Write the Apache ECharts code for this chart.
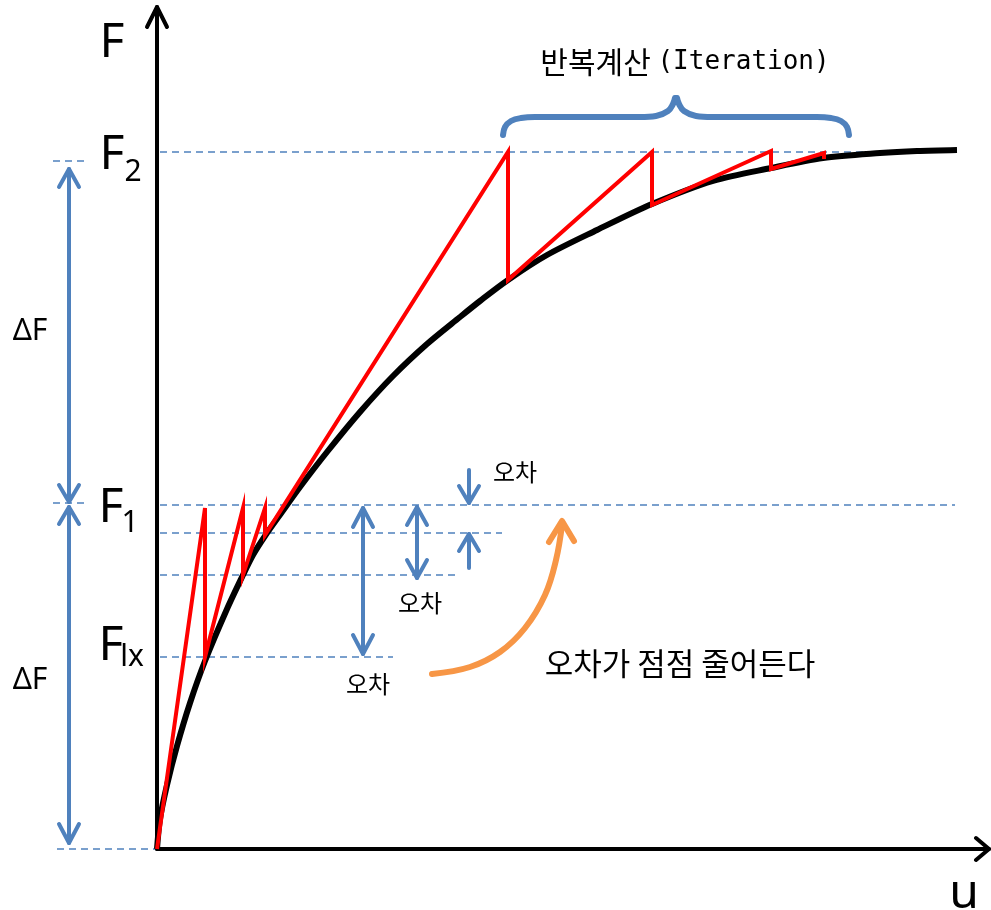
<!DOCTYPE html>
<html><head><meta charset="utf-8">
<script src="https://cdn.jsdelivr.net/npm/echarts@6/dist/echarts.min.js"></script>
<style>html,body{margin:0;padding:0;background:#fff}#c{width:991px;height:910px}</style>
</head><body><div id="c"></div>
<script>
// Nonlinear response curve F(u) (black)
const curveU = [0,3,10,20,33,48,70,86,96,108,125,143,170,203,236,270,303,323,351,390,440,495,556,614,666,723,760,800];
const curveF = [0,30,64,103,146,188,240,274,294,313,337,362,397,437,473,505,532,548,569,594,619,645,668,681,691,696,698,699];
// Iteration path (red)
const iterU = [0,48,48,86,86,108,108,351,351,495,495,614,614,667,667];
const iterF = [0,341,192,341,274,341,314,697,569,697,644,698,680,696,690];
// Force levels (dashed guide lines)
const levelNames = ['F2','F1','Fa','Fb','FIx','F0'];
const levelF = [697,344,316,274,192,0];
// Text
const axisNames = ['F','u'];
const deltaLabel = 'ΔF';
const errLabel = '오차';
const iterLabel = ['반복계산','(Iteration)'];
const trendLabel = '오차가 점점 줄어든다';

const BLUE = '#4f81bd', ORANGE = '#f79646';
const series = [];
function poly(pts, color, width, extra) {
  series.push({
    type: 'line', data: pts, symbol: 'none', silent: true, animation: false,
    lineStyle: Object.assign({ color: color, width: width, cap: 'round', join: 'round' }, (extra && extra.ls) || {}),
    smooth: (extra && extra.smooth) || false, z: (extra && extra.z) || 2
  });
}
function head(x, y, dir, dx, dy, color, width) {
  poly([[x - dx, y - dir * dy], [x, y], [x + dx, y - dir * dy]], color, width);
}
function dashed(y, x1, x2) {
  series.push({ type: 'line', data: [[x1, y], [x2, y]], symbol: 'none', silent: true, animation: false,
    lineStyle: { color: BLUE, width: 1.5, type: [7, 5] }, z: 3 });
}
function label(x, y, text, size, family, extra) {
  series.push({ type: 'scatter', data: [[x, y]], symbolSize: 1, itemStyle: { color: 'rgba(0,0,0,0)' },
    silent: true, animation: false, z: 10,
    label: Object.assign({ show: true, position: 'inside', formatter: text, color: '#000', opacity: 1,
      fontSize: size, fontFamily: family, align: 'center', verticalAlign: 'middle' }, extra || {}) });
}

// axes
poly([[0, 0], [0, 842]], '#000', 4);
head(0, 842, 1, 10, 20, '#000', 4);
poly([[0, 0], [832, 0]], '#000', 4);
poly([[819, 11], [832, 0], [819, -11]], '#000', 4);

// black curve
poly(curveU.map((u, i) => [u, curveF[i]]), '#000', 6, { smooth: 0.3, z: 4, ls: { cap: 'butt' } });

// dashed guides
dashed(levelF[0], 3, 800); dashed(688, -104, -69);
dashed(levelF[1], 3, 798); dashed(346, -104, -69);
dashed(levelF[2], 3, 345);
dashed(levelF[3], 3, 303);
dashed(levelF[4], 3, 236);
dashed(levelF[5], -100, -2);

// red iteration path
poly(iterU.map((u, i) => [u, iterF[i]]), '#ff0000', 4, { z: 5, ls: { join: 'miter', cap: 'butt' } });

// left ΔF arrows
poly([[-88, 680], [-88, 347]], BLUE, 4);
head(-88, 680, 1, 10, 18, BLUE, 4); head(-88, 347, -1, 10, 17, BLUE, 4);
poly([[-88, 342], [-88, 6]], BLUE, 4);
head(-88, 342, 1, 10, 17, BLUE, 4); head(-88, 6, -1, 10, 19, BLUE, 4);

// error arrows
poly([[206, 341], [206, 195]], BLUE, 4);
head(206, 341, 1, 10, 19, BLUE, 4); head(206, 195, -1, 10, 19, BLUE, 4);
poly([[260, 342], [260, 271]], BLUE, 4);
head(260, 342, 1, 10, 18, BLUE, 4); head(260, 271, -1, 10, 18, BLUE, 4);
poly([[312, 379], [312, 346]], BLUE, 4);
head(312, 346, -1, 10, 17, BLUE, 4);
poly([[312, 315], [312, 281]], BLUE, 4);
head(312, 315, 1, 10, 17, BLUE, 4);

// orange trend arrow
poly([[275, 175], [313, 182], [343, 197], [368, 221], [388, 254], [399, 289], [405, 324]], ORANGE, 6, { smooth: 0.4 });
poly([[392, 307], [405, 328], [417, 308]], ORANGE, 6);

// brace
poly([[346,714],[348,722],[354,728],[364,731],[378,732],[483,732],[499,733],[511,738],[516,745],[518,751]], BLUE, 6, { smooth: 0.4 });
poly([[520,751],[522,745],[527,738],[539,733],[555,732],[660,732],[674,731],[684,728],[690,722],[692,714]], BLUE, 6, { smooth: 0.4 });

// labels
const LAT = 'Noto Sans', KR = 'Noto Sans CJK KR';
label(-45, 806, axisNames[0], 48, LAT);
label(807, -45, axisNames[1], 48, LAT);
label(-45, 694, 'F', 48, LAT); label(-24, 677, '2', 30, LAT);
label(-46, 341, 'F', 48, LAT); label(-27, 326, '1', 30, LAT);
label(-46, 203, 'F', 48, LAT); label(-25, 192, 'lx', 30, LAT);
label(-127, 518, deltaLabel, 30, LAT);
label(-127, 169, deltaLabel, 30, LAT);
label(358, 377, errLabel, 24, KR);
label(263, 246, errLabel, 24, KR);
label(211, 165, errLabel, 24, KR);
label(523, 186, trendLabel, 31, KR);
label(528, 787, '{k|' + iterLabel[0] + '} {l|' + iterLabel[1] + '}', 30, KR, {
  rich: { k: { fontSize: 30, fontFamily: KR, color: '#000' }, l: { fontSize: 26, fontFamily: 'DejaVu Sans Mono', color: '#000' } }
});

const chart = echarts.init(document.getElementById('c'), null, { renderer: 'canvas' });
chart.setOption({
  animation: false,
  grid: { left: 0, right: 0, top: 0, bottom: 0 },
  xAxis: { type: 'value', min: -157, max: 834, show: false },
  yAxis: { type: 'value', min: -61, max: 849, show: false },
  series: series
});
</script>
</body></html>
